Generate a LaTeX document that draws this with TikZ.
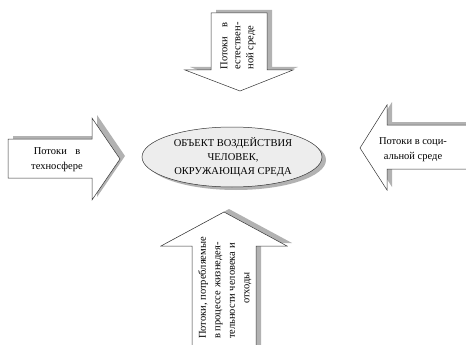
\documentclass[tikz,border=0pt]{standalone}
\usepackage{fontspec}
\usepackage{calc}
\setmainfont{Liberation Serif}
\begin{document}
\begin{tikzpicture}[x=1pt,y=-1pt,
  outline/.style={draw=black!80,line width=0.5pt,fill=white},
  shade/.style={fill=black!30,draw=none,shift={(5pt,3pt)}},
  label/.style={font=\fontsize{10.5}{14}\selectfont,inner sep=0pt,align=center},
  sidelabel/.style={label,font=\fontsize{10.5}{15}\selectfont}]
\useasboundingbox (0,0) rectangle (466,345);
\begin{scope}
\clip (0,0) rectangle (466,345);

% block arrow pointing down
\fill[shade] (211,13) -- (267,13) -- (267,70) -- (293,70) -- (240,91) -- (185,70) -- (211,70) -- cycle;
\draw[outline] (211,13) -- (267,13) -- (267,70) -- (293,70) -- (240,91) -- (185,70) -- (211,70) -- cycle;

% block arrow pointing right
\fill[shade] (8,139) -- (92,139) -- (92,118) -- (120,159) -- (92,200) -- (92,178) -- (8,178) -- cycle;
\draw[outline] (8,139) -- (92,139) -- (92,118) -- (120,159) -- (92,200) -- (92,178) -- (8,178) -- cycle;

% block arrow pointing left
\fill[shade] (475,125) -- (387,125) -- (387,105) -- (360,148) -- (387,190) -- (387,169) -- (475,169) -- cycle;
\draw[outline] (475,125) -- (387,125) -- (387,105) -- (360,148) -- (387,190) -- (387,169) -- (475,169) -- cycle;

% block arrow pointing up
\fill[shade] (192,355) -- (192,246) -- (161,246) -- (224,212) -- (287,246) -- (256,246) -- (256,355) -- cycle;
\draw[outline] (192,355) -- (192,246) -- (161,246) -- (224,212) -- (287,246) -- (256,246) -- (256,355) -- cycle;

% central ellipse with its shadow
\fill[black!30] (236,160) ellipse [x radius=90,y radius=30];
\draw[draw=black!80,line width=0.5pt,fill=black!7] (232,157) ellipse [x radius=90,y radius=30];
\end{scope}

\node[label] (object) at (233,157)
  {ОБЪЕКТ ВОЗДЕЙСТВИЯ\\ЧЕЛОВЕК,\\ОКРУЖАЮЩАЯ СРЕДА};

\node[sidelabel] (techno) at (57,160)
  {Потоки\hspace{0.8em}в\\техносфере};

\node[sidelabel] (social) at (413,150)
  {Потоки в соци-\\альной среде};

\node[sidelabel,rotate=90,align=left,font=\fontsize{10.5}{13}\selectfont] (nature) at (238,46)
  {\makebox[\widthof{естествен-}][s]{Потоки\hfill в}\\естествен-\\ной среде};

\node[sidelabel,rotate=90,align=left,font=\fontsize{10.5}{14.5}\selectfont] (waste) at (225,288)
  {Потоки, потребляемые\\
   в процессе жизнедея-\\
   тельности человека и\\
   \makebox[\widthof{Потоки, потребляемые}][c]{отходы}};
\end{tikzpicture}
\end{document}
